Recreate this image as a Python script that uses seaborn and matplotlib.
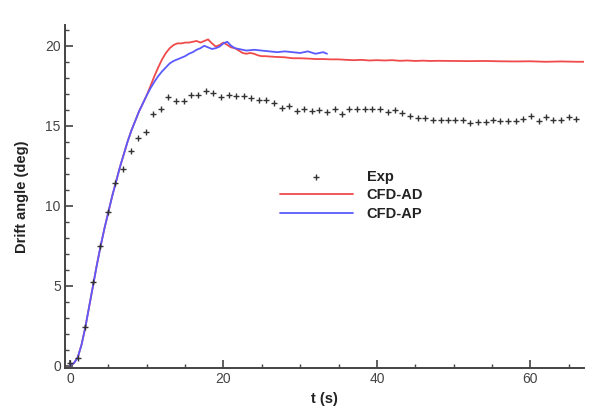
import matplotlib
matplotlib.use("Agg")
import matplotlib.pyplot as plt
import seaborn as sns
import pandas as pd

# ---- data ----
t_exp = [0.0, 1.0, 2.0, 3.0, 3.9, 4.9, 5.9, 6.9, 7.9, 8.9, 9.9, 10.8, 11.8, 12.8,
         13.8, 14.8, 15.8, 16.7, 17.7, 18.7, 19.7, 20.7, 21.7, 22.7, 23.6, 24.6,
         25.6, 26.6, 27.6, 28.6, 29.6, 30.5, 31.5, 32.5, 33.5, 34.5, 35.5, 36.4,
         37.4, 38.4, 39.4, 40.4, 41.4, 42.4, 43.3, 44.3, 45.3, 46.3, 47.3, 48.3,
         49.3, 50.2, 51.2, 52.2, 53.2, 54.2, 55.2, 56.1, 57.1, 58.1, 59.1, 60.1,
         61.1, 62.1, 63.0, 64.0, 65.0, 66.0]
y_exp = [0.15, 0.45, 2.4, 5.2, 7.5, 9.6, 11.4, 12.3, 13.4, 14.25, 14.6, 15.75,
         16.05, 16.8, 16.55, 16.55, 16.95, 16.95, 17.15, 17.05, 16.8, 16.95, 16.85,
         16.85, 16.75, 16.6, 16.6, 16.45, 16.1, 16.25, 15.9, 16.05, 15.95, 16.0,
         15.85, 16.05, 15.75, 16.05, 16.05, 16.05, 16.05, 16.05, 15.85, 16.0, 15.8,
         15.63, 15.5, 15.5, 15.33, 15.33, 15.33, 15.33, 15.33, 15.15, 15.22, 15.22,
         15.35, 15.28, 15.28, 15.28, 15.43, 15.63, 15.28, 15.57, 15.35, 15.35,
         15.57, 15.43]

t_ad = [0.0, 0.5, 1.0, 1.5, 2.0, 2.5, 3.0, 3.5, 4.0, 4.5, 5.0, 5.5, 6.0, 6.5, 7.0,
        7.5, 8.0, 8.5, 9.0, 9.5, 10.0, 10.5, 11.0, 11.5, 12.0, 12.5, 13.0, 13.5,
        14.0, 14.5, 15.0, 15.5, 16.0, 16.5, 17.0, 17.5, 18.0, 18.5, 19.0, 19.5,
        20.0, 20.5, 21.0, 21.5, 22.0, 22.5, 23.0, 23.5, 24.0, 24.5, 25.0, 25.5,
        26.0, 27.0, 28.0, 29.0, 30.0, 31.0, 32.0, 33.0, 34.0, 35.0, 36.0, 37.0,
        38.0, 39.0, 40.0, 41.0, 42.0, 43.0, 44.0, 45.0, 46.0, 47.0, 48.0, 50.0,
        52.0, 54.0, 56.0, 58.0, 60.0, 62.0, 64.0, 66.0, 67.0]
y_ad = [0.0, 0.15, 0.5, 1.3, 2.4, 3.7, 5.0, 6.3, 7.5, 8.6, 9.6, 10.6, 11.5, 12.4,
        13.2, 14.0, 14.7, 15.3, 15.9, 16.4, 16.9, 17.5, 18.1, 18.65, 19.15, 19.55,
        19.85, 20.05, 20.15, 20.15, 20.2, 20.2, 20.25, 20.3, 20.2, 20.3, 20.4,
        20.15, 19.95, 20.05, 20.2, 20.05, 19.9, 19.85, 19.7, 19.55, 19.5, 19.55,
        19.5, 19.4, 19.35, 19.35, 19.33, 19.3, 19.28, 19.22, 19.22, 19.2, 19.17,
        19.17, 19.15, 19.15, 19.12, 19.1, 19.12, 19.08, 19.1, 19.08, 19.1, 19.06,
        19.08, 19.05, 19.07, 19.05, 19.06, 19.05, 19.04, 19.05, 19.03, 19.02,
        19.03, 19.0, 19.02, 19.0, 19.0]

t_ap = [0.0, 0.5, 1.0, 1.5, 2.0, 2.5, 3.0, 3.5, 4.0, 4.5, 5.0, 5.5, 6.0, 6.5, 7.0,
        7.5, 8.0, 8.5, 9.0, 9.5, 10.0, 10.5, 11.0, 11.5, 12.0, 12.5, 13.0, 13.5,
        14.0, 14.5, 15.0, 15.5, 16.0, 16.5, 17.0, 17.5, 18.0, 18.5, 19.0, 19.5,
        20.0, 20.5, 21.0, 21.5, 22.0, 22.5, 23.0, 24.0, 25.0, 26.0, 27.0, 28.0,
        29.0, 30.0, 31.0, 32.0, 33.0, 33.5]
y_ap = [0.0, 0.15, 0.5, 1.3, 2.4, 3.7, 5.0, 6.3, 7.5, 8.6, 9.6, 10.6, 11.5, 12.4,
        13.2, 14.0, 14.7, 15.3, 15.9, 16.4, 16.9, 17.35, 17.75, 18.1, 18.4, 18.65,
        18.9, 19.05, 19.15, 19.25, 19.35, 19.5, 19.6, 19.75, 19.85, 20.0, 19.9,
        19.8, 19.85, 19.95, 20.15, 20.25, 20.0, 19.85, 19.8, 19.75, 19.7, 19.75,
        19.7, 19.65, 19.6, 19.65, 19.6, 19.55, 19.65, 19.5, 19.6, 19.5]

labels = ["Exp", "CFD-AD", "CFD-AP"]
colors = ["#333333", "#f04a4a", "#5a5aff"]

# ---- styling ----
sns.set_style("ticks")
plt.rcParams["font.family"] = ["Liberation Sans", "DejaVu Sans"]

fig = plt.figure(figsize=(6.1, 4.09), dpi=100)
ax = fig.add_axes([0.1066, 0.1003, 0.8508, 0.8386])

df_exp = pd.DataFrame({"t": t_exp, "y": y_exp})
df_ad = pd.DataFrame({"t": t_ad, "y": y_ad})
df_ap = pd.DataFrame({"t": t_ap, "y": y_ap})

sns.lineplot(data=df_ad, x="t", y="y", color=colors[1], lw=1.3, label=labels[1],
             ax=ax, zorder=2)
sns.lineplot(data=df_ap, x="t", y="y", color=colors[2], lw=1.3, label=labels[2],
             ax=ax, zorder=3)
sns.scatterplot(data=df_exp, x="t", y="y", marker="+", color=colors[0], s=20,
                linewidth=1.0, label=labels[0], ax=ax, zorder=4)

ax.set_xlim(-0.65, 67.0)
ax.set_ylim(-0.15, 21.3)
ax.set_xticks([0, 20, 40, 60])
ax.set_yticks([0, 5, 10, 15, 20])
ax.set_xticks(range(0, 67, 5), minor=True)
ax.set_yticks(range(0, 22, 1), minor=True)
ax.tick_params(which="major", direction="in", length=6, width=1.2, colors="#444444",
               labelsize=10, labelcolor="#444444", pad=3)
ax.tick_params(which="minor", direction="in", length=3, width=1.0, colors="#444444")
for s in ["top", "right"]:
    ax.spines[s].set_visible(False)
for s in ["left", "bottom"]:
    ax.spines[s].set_linewidth(1.4)
    ax.spines[s].set_color("#444444")

ax.set_xlabel("t (s)", fontsize=10.5, fontweight="bold", color="#222222", labelpad=4)
ax.set_ylabel("Drift angle (deg)", fontsize=10.5, fontweight="bold", color="#222222",
              labelpad=12)

h, l = ax.get_legend_handles_labels()
order = [l.index(x) for x in labels]
leg = ax.legend([h[i] for i in order], [l[i] for i in order], loc="upper left",
                bbox_to_anchor=(280 / 610, 1 - 170 / 409),
                bbox_transform=fig.transFigure, frameon=False, borderpad=0,
                borderaxespad=0, handlelength=5.0, handletextpad=0.95,
                labelspacing=0.3, scatterpoints=1,
                prop={"weight": "bold", "size": 10.5})
for txt in leg.get_texts():
    txt.set_color("#222222")

fig.savefig("out.png", dpi=100)
